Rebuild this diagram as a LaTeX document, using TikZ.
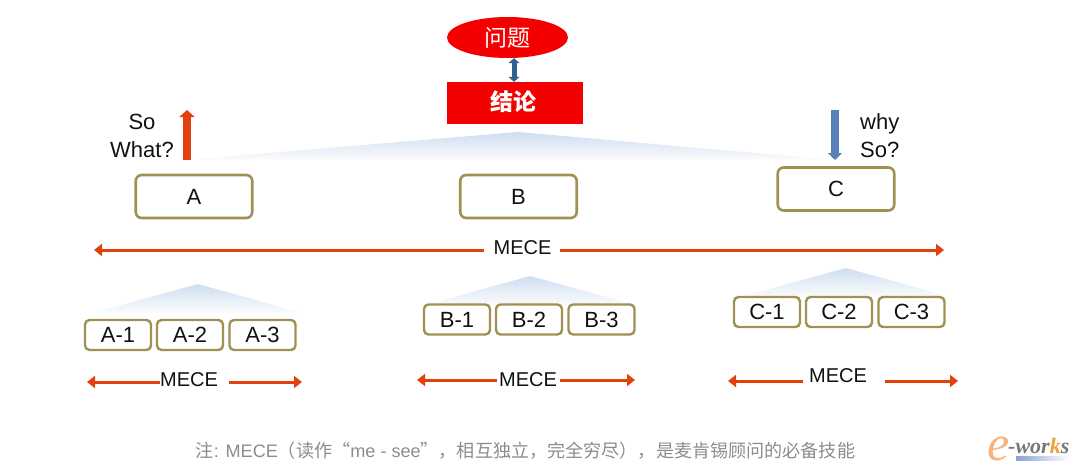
\documentclass[tikz,border=0pt]{standalone}
\usepackage{fontspec}
\setmainfont{Liberation Sans}
\newfontfamily\cjk{Noto Sans CJK SC}
\newfontfamily\logofont{Liberation Serif}
\usetikzlibrary{arrows.meta,shapes.geometric}
\definecolor{olivebox}{HTML}{A09052}
\definecolor{mecered}{HTML}{E2400C}
\definecolor{redfill}{HTML}{F50000}
\definecolor{txt}{HTML}{111111}
\definecolor{fadeblue}{HTML}{CFDEF0}
\definecolor{fadelow}{HTML}{FBFCFD}
\definecolor{dblblue}{HTML}{2E6090}
\definecolor{dnblue}{HTML}{5A80B8}
\definecolor{capgrey}{HTML}{8C8C8C}
\definecolor{logoorange}{HTML}{F5B482}
\definecolor{logok}{HTML}{F0A030}
\definecolor{logogrey}{HTML}{787878}
\definecolor{logobar}{HTML}{8CA0D8}
\tikzset{
  x=1pt,y=-1pt,
  bigbox/.style={draw=olivebox,line width=2.6pt,rounded corners=6pt,fill=white,minimum width=116.5pt,minimum height=43pt,inner sep=0pt,font=\fontsize{22}{26}\selectfont,text=txt},
  smallbox/.style={draw=olivebox,line width=2.4pt,rounded corners=4.5pt,fill=white,minimum width=66pt,minimum height=30pt,inner sep=0pt,font=\fontsize{22}{26}\selectfont,text=txt},
  label/.style={inner sep=0pt,font=\fontsize{20}{24}\selectfont,text=txt},
  tall/.style={inner sep=0pt,font=\fontsize{22}{28}\selectfont,text=txt},
  mece/.style={draw=mecered,line width=3pt,-{Triangle[width=12pt,length=8pt]}},
  roof/.style={top color=fadeblue,bottom color=fadelow,draw=none},
}
\begin{document}
\begin{tikzpicture}
\useasboundingbox (0,0) rectangle (1080,471);
% roofs
\shade[roof] (185,160) -- (518,132) -- (835,160) -- cycle;
\shade[roof] (92,313) -- (198,284) -- (302,313) -- cycle;
\shade[roof] (425,305) -- (530,276) -- (636,305) -- cycle;
\shade[roof] (740,297) -- (846,268) -- (951,297) -- cycle;
% top
\node[ellipse,fill=redfill,minimum width=121pt,minimum height=41pt,inner sep=0pt,text=white,font=\cjk\fontsize{23}{26}\selectfont] (q) at (507.5,37.5) {问题};
\node[fill=redfill,minimum width=136pt,minimum height=42pt,inner sep=0pt] (c) at (515,103) {};
\node[inner sep=0pt,text=white,font=\cjk\bfseries\fontsize{23}{26}\selectfont] (ct) at (513.5,101.5) {结论};
\coordinate (dbl) at (514,70);
\draw[draw=dblblue,line width=5pt,{Triangle[width=11pt,length=5pt]}-{Triangle[width=11pt,length=5pt]}] (dbl |- q.south) -- (dbl |- c.north);
% so what
\coordinate (upa) at (187,160);
\coordinate (upb) at (187,110);
\draw[draw=mecered,line width=8pt,-{Triangle[width=15pt,length=7pt]}] (upa) -- (upb);
\node[tall,align=center] (sowhat) at (142,136) {So\\What?};
\coordinate (dna) at (835,110);
\coordinate (dnb) at (835,160);
\draw[draw=dnblue,line width=8pt,-{Triangle[width=14pt,length=7pt]}] (dna) -- (dnb);
\node[tall,align=left,anchor=west] (whyso) at (860,136) {why\\So?};
% boxes
\node[bigbox] (A) at (194,196.5) {A};
\node[bigbox] (B) at (518.5,196.5) {B};
\node[bigbox] (C) at (836,189) {C};
\foreach \n/\x/\y in {A-1/118/335,A-2/190/335,A-3/262.5/335,B-1/457/319.5,B-2/529/319.5,B-3/601.5/319.5,C-1/767/312,C-2/839/312,C-3/911.5/312}
  \node[smallbox] (\n) at (\x,\y) {\n};
% mece
\node[label] (m0) at (522.5,248) {MECE};
\coordinate (m0l) at (94,250);
\coordinate (m0r) at (944,250);
\draw[mece] (484,250) -- (m0l);
\draw[mece] (560,250) -- (m0r);
\node[label] (ma) at (189,380) {MECE};
\coordinate (mal) at (87,382);
\coordinate (mar) at (302,382);
\draw[mece] (160,382) -- (mal);
\draw[mece] (229,382) -- (mar);
\node[label] (mb) at (528,380) {MECE};
\coordinate (mbl) at (417,380);
\coordinate (mbr) at (635,380);
\draw[mece] (497,380) -- (mbl);
\draw[mece] (560,380) -- (mbr);
\node[label] (mc) at (838,376) {MECE};
\coordinate (mcl) at (728,381);
\coordinate (mcr) at (958,381);
\draw[mece] (803,381) -- (mcl);
\draw[mece] (885,381) -- (mcr);
% caption
\node[inner sep=0pt,text=capgrey,font=\fontsize{18.1}{22}\selectfont] (cap) at (525.5,451) {{\cjk 注}: MECE{\cjk（读作“}me - see{\cjk ”，相互独立，完全穷尽），是麦肯锡顾问的必备技能}};
% logo
\shade[left color=logobar,right color=white] (1016,456) rectangle (1069,460);
\node[inner sep=0pt,anchor=base west,text=logoorange,font=\logofont\itshape\fontsize{50}{50}\selectfont] (logoe) at (987,460) {e};
\node[inner sep=0pt,anchor=base west,text=logogrey,font=\logofont\bfseries\itshape\fontsize{22}{22}\selectfont] (logow) at (1008,453) {-wor\textcolor{logok}{k}s};
\end{tikzpicture}
\end{document}
